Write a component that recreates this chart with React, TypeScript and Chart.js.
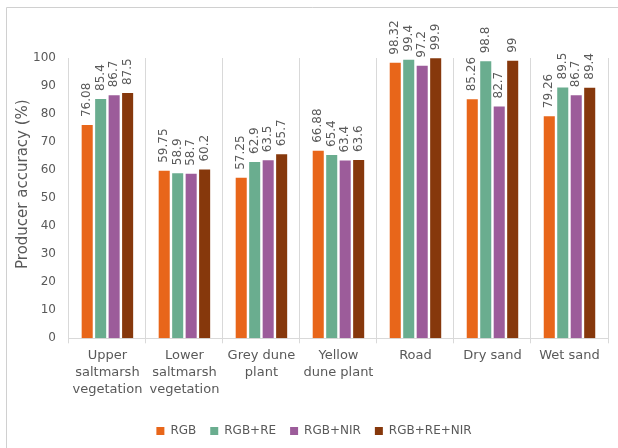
import React, { useEffect, useRef } from "react";
import { Chart, registerables } from "chart.js";

Chart.register(...registerables);

const categories: string[][] = [
  ["Upper", "saltmarsh", "vegetation"],
  ["Lower", "saltmarsh", "vegetation"],
  ["Grey dune", "plant"],
  ["Yellow", "dune plant"],
  ["Road"],
  ["Dry sand"],
  ["Wet sand"],
];
const seriesNames = ["RGB", "RGB+RE", "RGB+NIR", "RGB+RE+NIR"];
const rgb = [76.08, 59.75, 57.25, 66.88, 98.32, 85.26, 79.26];
const rgbRe = [85.4, 58.9, 62.9, 65.4, 99.4, 98.8, 89.5];
const rgbNir = [86.7, 58.7, 63.5, 63.4, 97.2, 82.7, 86.7];
const rgbReNir = [87.5, 60.2, 65.7, 63.6, 99.9, 99, 89.4];
const seriesColors = ["#E8661A", "#6AAD8F", "#9C5C9A", "#86380C"];
const yTitle = "Producer accuracy (%)";
const yMin = 0;
const yMax = 100;
const yStep = 10;

const FONT = "'DejaVu Sans', sans-serif";
const TEXT = "#595959";
const GRID = "#d9d9d9";

const framePlugin = {
  id: "frame",
  beforeDraw(chart: any) {
    const { ctx, width, height } = chart;
    ctx.save();
    ctx.fillStyle = "#ffffff";
    ctx.fillRect(0, 0, width, height);
    ctx.strokeStyle = "#d0d0d0";
    ctx.lineWidth = 1;
    ctx.beginPath();
    ctx.moveTo(6.5, height);
    ctx.lineTo(6.5, 7.5);
    ctx.lineTo(width, 7.5);
    ctx.stroke();
    ctx.restore();
  },
};

const valueLabelPlugin = {
  id: "valueLabels",
  afterDatasetsDraw(chart: any) {
    const { ctx } = chart;
    ctx.save();
    ctx.font = `12px ${FONT}`;
    ctx.fillStyle = TEXT;
    ctx.textAlign = "left";
    ctx.textBaseline = "middle";
    chart.data.datasets.forEach((ds: any, di: number) => {
      const meta = chart.getDatasetMeta(di);
      meta.data.forEach((bar: any, i: number) => {
        const v = ds.data[i];
        ctx.save();
        ctx.translate(bar.x, bar.y - 8);
        ctx.rotate(-Math.PI / 2);
        ctx.fillText(String(v), 0, 0);
        ctx.restore();
      });
    });
    ctx.restore();
  },
};

const yTitlePlugin = {
  id: "yTitleCustom",
  afterDraw(chart: any) {
    const { ctx, chartArea } = chart;
    ctx.save();
    ctx.font = `15px ${FONT}`;
    ctx.fillStyle = TEXT;
    ctx.textAlign = "center";
    ctx.textBaseline = "middle";
    ctx.translate(23, (chartArea.top + chartArea.bottom) / 2 - 14);
    ctx.rotate(-Math.PI / 2);
    ctx.fillText(yTitle, 0, 0);
    ctx.restore();
  },
};

export default function App() {
  const ref = useRef<HTMLCanvasElement>(null);
  useEffect(() => {
    if (!ref.current) return;
    const all = [rgb, rgbRe, rgbNir, rgbReNir];
    const chart = new Chart(ref.current, {
      type: "bar",
      data: {
        labels: categories,
        datasets: all.map((d, i) => ({
          label: seriesNames[i],
          data: d,
          backgroundColor: seriesColors[i],
          borderWidth: 0,
          categoryPercentage: 0.7,
          barPercentage: 0.82,
        })),
      },
      options: {
        responsive: false,
        animation: false,
        layout: { padding: { left: 20, right: 10, top: 58, bottom: 1 } },
        plugins: {
          legend: {
            position: "bottom",
            title: { display: true, text: "", font: { size: 1, lineHeight: 1 }, padding: 4 },
            labels: {
              boxWidth: 8,
              boxHeight: 8,
              padding: 14,
              color: TEXT,
              font: { family: FONT, size: 12 },
            },
          },
          tooltip: { enabled: false },
        },
        scales: {
          x: {
            grid: { color: GRID, offset: true, tickLength: 5, drawTicks: true },
            border: { color: GRID },
            ticks: {
              color: TEXT,
              font: { family: FONT, size: 13, lineHeight: 1.3 },
              padding: 4,
              maxRotation: 0,
              autoSkip: false,
            },
          },
          y: {
            min: yMin,
            max: yMax,
            grid: { display: false, drawTicks: false },
            border: { display: false },
            ticks: {
              stepSize: yStep,
              color: TEXT,
              font: { family: FONT, size: 12 },
              padding: 13,
            },
          },
        },
      },
      plugins: [framePlugin, valueLabelPlugin, yTitlePlugin],
    });
    return () => chart.destroy();
  }, []);
  return (
    <div style={{ position: "fixed", left: 0, top: 0, width: 618, height: 448, background: "#fff" }}>
      <canvas ref={ref} width={618} height={448} />
    </div>
  );
}
